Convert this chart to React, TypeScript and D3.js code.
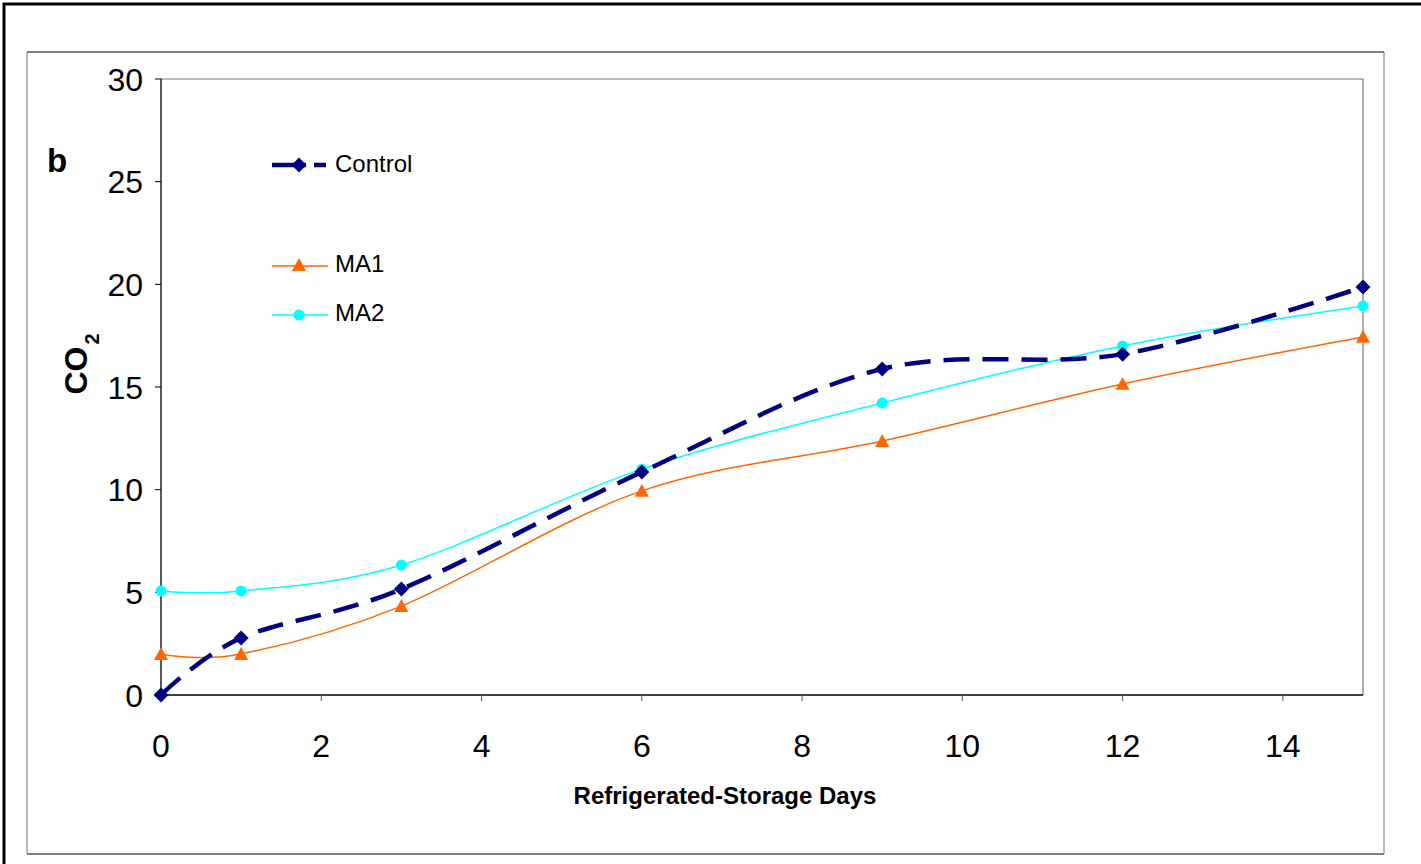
import React from "react";
import * as d3 from "d3";

const days = [0, 1, 3, 6, 9, 12, 15];
const control = [0, 2.78, 5.16, 10.86, 15.88, 16.6, 19.87];
const ma1 = [2.0, 2.0, 4.33, 9.94, 12.37, 15.15, 17.44];
const ma2 = [5.07, 5.07, 6.33, 11.0, 14.22, 17.0, 18.95];
const xTicks = [0, 2, 4, 6, 8, 10, 12, 14];
const yTicks = [0, 5, 10, 15, 20, 25, 30];

const W = 1421, H = 864;
const L = 161, R = 1363, T = 79, B = 695;
const FONT = "Liberation Sans, Arial, sans-serif";

export default function App() {
  const x = d3.scaleLinear().domain([0, 15]).range([L, R]);
  const y = d3.scaleLinear().domain([0, 30]).range([B, T]);
  const line = d3
    .line<[number, number]>()
    .x((d) => x(d[0]))
    .y((d) => y(d[1]))
    .curve(d3.curveCardinal.tension(0));
  const pts = (vals: number[]) => days.map((d, i) => [d, vals[i]] as [number, number]);
  const diamond = (cx: number, cy: number, r = 7.5) =>
    `M${cx},${cy - r}L${cx + r},${cy}L${cx},${cy + r}L${cx - r},${cy}Z`;
  const tri = (cx: number, cy: number, s = 7) =>
    `M${cx},${cy - s}L${cx + s},${cy + s * 0.85}L${cx - s},${cy + s * 0.85}Z`;

  return (
    <svg width={W} height={H} style={{ position: "absolute", left: 0, top: 0 }} fontFamily={FONT}>
      <rect x={0} y={0} width={W} height={H} fill="#fff" />
      {/* outer frame */}
      <rect x={4} y={4} width={W + 10} height={H + 10} fill="none" stroke="#000" strokeWidth={3} />
      {/* inner frame */}
      <line x1={27} y1={52} x2={1384} y2={52} stroke="#000" strokeWidth={1.2} />
      <line x1={27} y1={854} x2={1384} y2={854} stroke="#000" strokeWidth={1.2} />
      <line x1={27} y1={52} x2={27} y2={854} stroke="#888" strokeWidth={1.2} />
      <line x1={1384} y1={52} x2={1384} y2={854} stroke="#888" strokeWidth={1.2} />
      {/* plot border */}
      <line x1={L} y1={T} x2={R} y2={T} stroke="#777" strokeWidth={1.2} />
      <line x1={R} y1={T} x2={R} y2={B} stroke="#777" strokeWidth={1.2} />
      {/* axes */}
      <line x1={L} y1={T} x2={L} y2={B} stroke="#000" strokeWidth={1.3} />
      <line x1={L} y1={B} x2={R} y2={B} stroke="#000" strokeWidth={1.3} />
      {yTicks.map((t) => (
        <g key={"y" + t}>
          <line x1={L - 6} x2={L} y1={y(t)} y2={y(t)} stroke="#000" strokeWidth={1} />
          <text x={L - 18} y={y(t)} dy="0.36em" textAnchor="end" fontSize={32}>
            {t}
          </text>
        </g>
      ))}
      {xTicks.map((t) => (
        <g key={"x" + t}>
          <line x1={x(t)} x2={x(t)} y1={B} y2={B + 6} stroke="#555" strokeWidth={1} />
          <text x={x(t)} y={745} dy="0.36em" textAnchor="middle" fontSize={32}>
            {t}
          </text>
        </g>
      ))}
      <text x={725} y={795} dy="0.36em" textAnchor="middle" fontSize={24} fontWeight="bold">
        Refrigerated-Storage Days
      </text>
      <text transform="translate(87,364) rotate(-90)" textAnchor="middle" fontSize={32} fontWeight="bold">
        CO<tspan fontSize={20} dy={12} dx={2}>2</tspan>
      </text>
      <text x={57} y={160} dy="0.36em" textAnchor="middle" fontSize={33} fontWeight="bold">
        b
      </text>

      {/* series */}
      <path d={line(pts(ma1)) || ""} fill="none" stroke="#FF6600" strokeWidth={1.5} />
      <path d={line(pts(ma2)) || ""} fill="none" stroke="#00FFFF" strokeWidth={1.5} />
      <path d={line(pts(control)) || ""} fill="none" stroke="#000080" strokeWidth={4.5} strokeDasharray="26,13" />
      {pts(ma1).map((p, i) => (
        <path key={"a" + i} d={tri(x(p[0]), y(p[1]))} fill="#FF6600" />
      ))}
      {pts(ma2).map((p, i) => (
        <circle key={"c" + i} cx={x(p[0])} cy={y(p[1])} r={5.5} fill="#00FFFF" />
      ))}
      {pts(control).map((p, i) => (
        <path key={"d" + i} d={diamond(x(p[0]), y(p[1]))} fill="#000080" />
      ))}

      {/* legend */}
      <line x1={272} x2={328} y1={165} y2={165} stroke="#000080" strokeWidth={4.5} strokeDasharray="34,8,12,8" />
      <path d={diamond(299, 165)} fill="#000080" />
      <text x={335} y={163} dy="0.36em" fontSize={24}>Control</text>
      <line x1={272} x2={328} y1={266} y2={266} stroke="#FF6600" strokeWidth={1.5} />
      <path d={tri(299, 265)} fill="#FF6600" />
      <text x={335} y={263} dy="0.36em" fontSize={24}>MA1</text>
      <line x1={272} x2={328} y1={315} y2={315} stroke="#00FFFF" strokeWidth={1.5} />
      <circle cx={299} cy={315} r={5.5} fill="#00FFFF" />
      <text x={335} y={312} dy="0.36em" fontSize={24}>MA2</text>
    </svg>
  );
}
